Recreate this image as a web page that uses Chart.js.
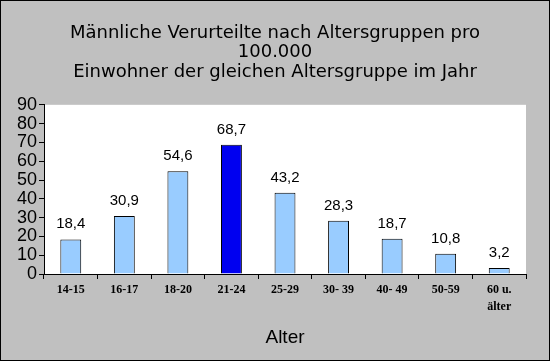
<!DOCTYPE html>
<html>
<head>
<meta charset="utf-8">
<script src="https://cdn.jsdelivr.net/npm/chart.js@4.4.0/dist/chart.umd.min.js"></script>
<style>
  html, body { margin: 0; padding: 0; background: #c0c0c0; }
  #wrap { width: 550px; height: 361px; position: relative; }
</style>
</head>
<body>
<div id="wrap"><canvas id="c" width="550" height="361"></canvas></div>
<script>
const categories = ['14-15', '16-17', '18-20', '21-24', '25-29', '30- 39', '40- 49', '50-59', ['60 u.', 'älter']];
const values = [18.4, 30.9, 54.6, 68.7, 43.2, 28.3, 18.7, 10.8, 3.2];
const highlightIndex = 3;
const yTicks = [0, 10, 20, 30, 40, 50, 60, 70, 80, 90];
const titleLines = ['Männliche Verurteilte nach Altersgruppen pro', '100.000', 'Einwohner der gleichen Altersgruppe im Jahr'];
const axisTitle = 'Alter';

const LIGHT = '#99ccff';
const DARK = '#0000f0';

const bgPlugin = {
  id: 'bg',
  beforeDraw(chart) {
    const ctx = chart.ctx;
    const a = chart.chartArea;
    ctx.save();
    ctx.fillStyle = '#c0c0c0';
    ctx.fillRect(0, 0, chart.width, chart.height);
    ctx.fillStyle = '#ffffff';
    ctx.fillRect(a.left, a.top, a.right - a.left, a.bottom - a.top);
    ctx.restore();
  },
  afterDraw(chart) {
    const ctx = chart.ctx;
    ctx.save();
    ctx.strokeStyle = '#000000';
    ctx.lineWidth = 1;
    ctx.strokeRect(0.5, 0.5, chart.width - 1, chart.height - 1);
    ctx.restore();
  }
};

const labelPlugin = {
  id: 'valueLabels',
  afterDatasetsDraw(chart) {
    const ctx = chart.ctx;
    const meta = chart.getDatasetMeta(0);
    ctx.save();
    ctx.font = '15px "Liberation Sans", Arial, sans-serif';
    ctx.fillStyle = '#000000';
    ctx.textAlign = 'center';
    ctx.textBaseline = 'alphabetic';
    meta.data.forEach((bar, i) => {
      const txt = values[i].toFixed(1).replace('.', ',');
      ctx.fillText(txt, bar.x, bar.y - 11);
    });
    ctx.restore();
  }
};

new Chart(document.getElementById('c'), {
  type: 'bar',
  data: {
    labels: categories,
    datasets: [{
      data: values,
      backgroundColor: values.map((v, i) => i === highlightIndex ? DARK : LIGHT),
      borderColor: '#000000',
      borderWidth: 1,
      borderSkipped: 'bottom',
      barPercentage: 0.39,
      categoryPercentage: 1.0
    }]
  },
  options: {
    responsive: false,
    animation: false,
    devicePixelRatio: 1,
    layout: { padding: { left: 0, right: 0, top: 0, bottom: 0 } },
    plugins: {
      legend: { display: false },
      tooltip: { enabled: false },
      title: {
        display: true,
        text: titleLines,
        color: '#000000',
        font: { family: '"DejaVu Sans", Verdana, sans-serif', size: 18, weight: 'normal', lineHeight: 1.08 },
        padding: { top: 23.5, bottom: 23 }
      }
    },
    scales: {
      x: {
        grid: { display: true, drawOnChartArea: false, drawTicks: true, tickLength: 5, color: '#000000', offset: true },
        border: { display: true, color: '#000000', width: 1 },
        ticks: {
          color: '#000000',
          padding: 3,
          maxRotation: 0,
          autoSkip: false,
          font: { family: '"Liberation Serif", "Times New Roman", serif', size: 12, weight: 'bold', lineHeight: 1.4 }
        },
        title: {
          display: true,
          text: axisTitle,
          color: '#000000',
          font: { family: '"Liberation Sans", Arial, sans-serif', size: 19, weight: 'normal', lineHeight: 1.2 },
          padding: { top: 0, bottom: 12 }
        },
        afterFit(scale) { scale.height = 87; }
      },
      y: {
        min: 0,
        max: 90,
        afterBuildTicks(scale) { scale.ticks = yTicks.map(v => ({ value: v })); },
        grid: { display: true, drawOnChartArea: false, drawTicks: true, tickLength: 5, color: '#000000' },
        border: { display: true, color: '#000000', width: 1 },
        ticks: {
          color: '#000000',
          padding: 2,
          autoSkip: false,
          font: { family: '"Liberation Sans", Arial, sans-serif', size: 18, weight: 'normal' }
        },
        afterFit(scale) { scale.width = 44; }
      },
      yRight: {
        position: 'right',
        display: true,
        min: 0,
        max: 90,
        grid: { display: false, drawTicks: false },
        border: { display: false },
        ticks: { display: false },
        afterFit(scale) { scale.width = 24; }
      }
    }
  },
  plugins: [bgPlugin, labelPlugin]
});
</script>
</body>
</html>
